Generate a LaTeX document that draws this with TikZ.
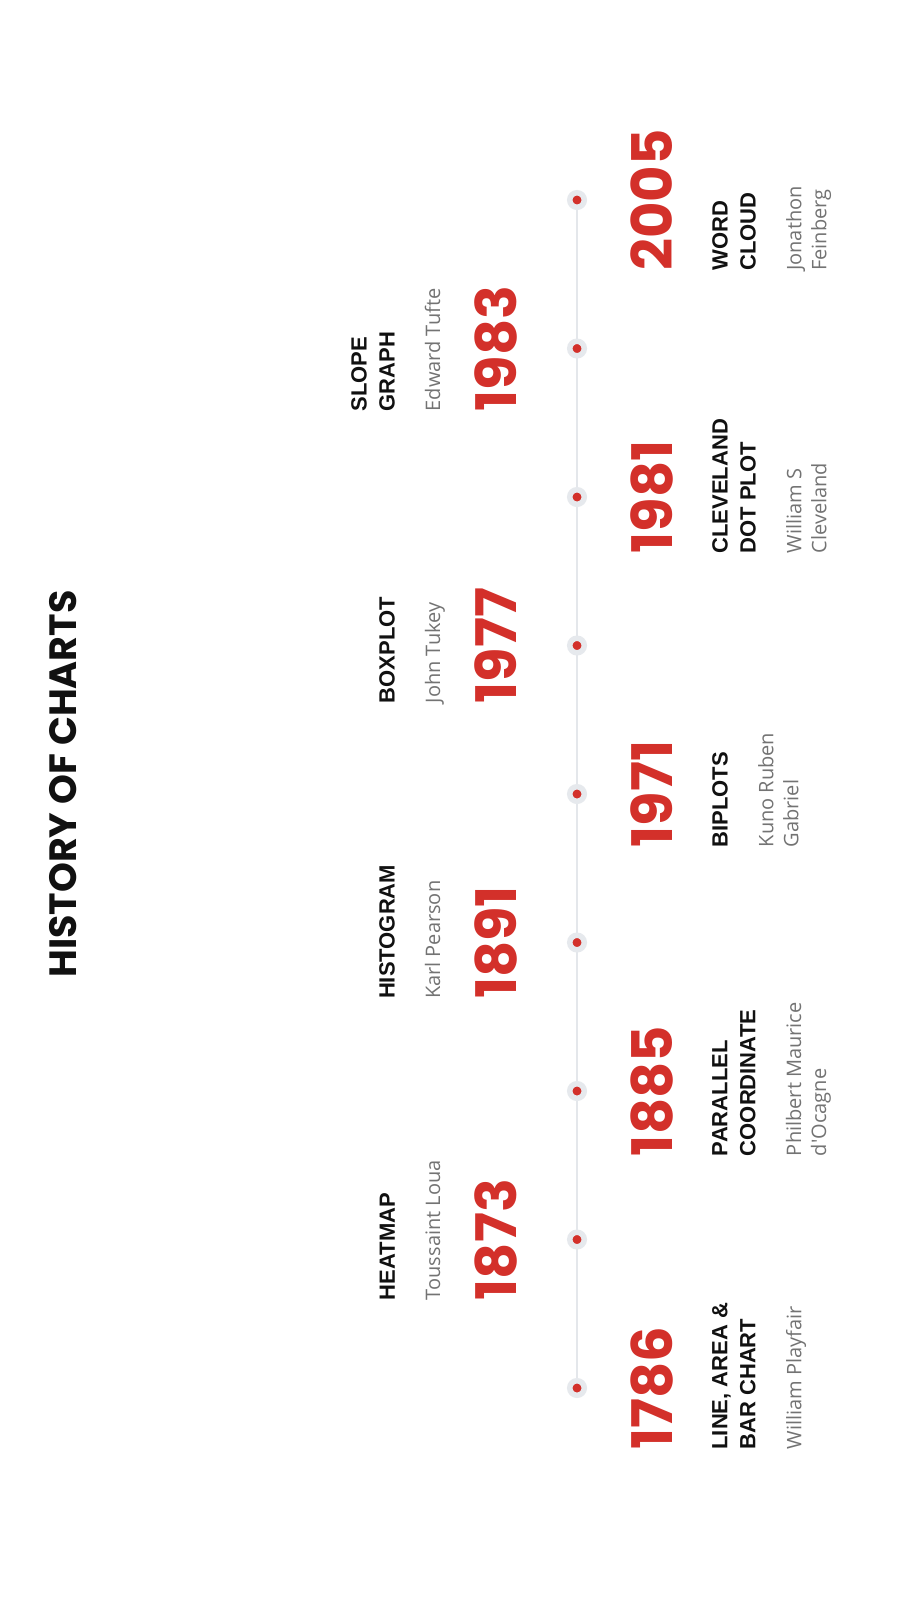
\documentclass[tikz,border=0pt]{standalone}
\usepackage{fontspec}
\usetikzlibrary{calc,backgrounds}
\newfontfamily\headfont{Poppins}
\newfontfamily\chartfont{Liberation Sans}
\newfontfamily\personfont{Open Sans}
\definecolor{Crimson}{HTML}{D3302A}
\definecolor{Rail}{HTML}{E4E7EB}
\definecolor{Halo}{HTML}{E6E9ED}
\definecolor{Ash}{HTML}{737373}
\definecolor{Coal}{HTML}{111111}

\tikzset{
  yr/.style={rotate=90, inner sep=0pt, text=Crimson, font=\headfont\bfseries\fontsize{56}{60}\selectfont},
  chart/.style={rotate=90, inner sep=0pt, align=left, text=Coal, font=\chartfont\bfseries\fontsize{22}{28}\selectfont},
  person/.style={rotate=90, inner sep=0pt, align=left, text=Ash, font=\personfont\fontsize{20}{25}\selectfont},
  dot/.style={circle, fill=Crimson, draw=Halo, line width=5.5pt, minimum size=14.5pt, inner sep=0pt},
}

\begin{document}
\begin{tikzpicture}[x=1pt, y=-1pt]
  \useasboundingbox (0,0) rectangle (914,1620);
  \node[rotate=90, inner sep=0pt, text=Coal, font=\headfont\bfseries\fontsize{38}{40}\selectfont] (title) at (63.5,784) {HISTORY OF CHARTS};

  % columns
  \coordinate (upYear) at (652,0);
  \coordinate (upChart) at (712,0);
  \coordinate (loYear) at (496,0);
  \coordinate (loChart) at (395,0);
  \coordinate (loPerson) at (440,0);

  % timeline
  \foreach \i/\r in {1/1388,2/1239.5,3/1091,4/942.5,5/794,6/645.5,7/497,8/348.5,9/200}
    \node[dot] (d\i) at (577,\r) {};
  \begin{pgfonlayer}{background}
    \fill[white] (0,0) rectangle (914,1620);
    \draw[Rail, line width=2.5pt] (d1) -- (d9);
  \end{pgfonlayer}

  % above the line
  \node[yr] (y1786) at (d1 -| upYear) {1786};
  \node[chart, anchor=north west] (c1786) at (y1786.west -| upChart) {LINE, AREA \&\\BAR CHART};
  \node[person, anchor=north west] (p1786) at ($(c1786.south west)+(30,0)$) {William Playfair};

  \node[yr] (y1885) at (d3 -| upYear) {1885};
  \node[chart, anchor=north west] (c1885) at (y1885.west -| upChart) {PARALLEL\\COORDINATE};
  \node[person, anchor=north west] (p1885) at ($(c1885.south west)+(30,0)$) {Philbert Maurice\\d'Ocagne};

  \node[yr] (y1971) at (d5 -| upYear) {1971};
  \node[chart, anchor=north west] (c1971) at (y1971.west -| upChart) {BIPLOTS};
  \node[person, anchor=north west] (p1971) at ($(c1971.south west)+(30,0)$) {Kuno Ruben\\Gabriel};

  \node[yr] (y1981) at (d7 -| upYear) {1981};
  \node[chart, anchor=north west] (c1981) at (y1981.west -| upChart) {CLEVELAND\\DOT PLOT};
  \node[person, anchor=north west] (p1981) at ($(c1981.south west)+(30,0)$) {William S\\Cleveland};

  \node[yr] (y2005) at (d9 -| upYear) {2005};
  \node[chart, anchor=north west] (c2005) at (y2005.west -| upChart) {WORD\\CLOUD};
  \node[person, anchor=north west] (p2005) at ($(c2005.south west)+(30,0)$) {Jonathon\\Feinberg};

  % below the line
  \node[yr] (y1873) at (d2 -| loYear) {1873};
  \node[chart, anchor=south west] (c1873) at (y1873.west -| loChart) {HEATMAP};
  \node[person, anchor=base west] (p1873) at (y1873.west -| loPerson) {Toussaint Loua};

  \node[yr] (y1891) at (d4 -| loYear) {1891};
  \node[chart, anchor=south west] (c1891) at (y1891.west -| loChart) {HISTOGRAM};
  \node[person, anchor=base west] (p1891) at (y1891.west -| loPerson) {Karl Pearson};

  \node[yr] (y1977) at (d6 -| loYear) {1977};
  \node[chart, anchor=south west] (c1977) at (y1977.west -| loChart) {BOXPLOT};
  \node[person, anchor=base west] (p1977) at (y1977.west -| loPerson) {John Tukey};

  \node[yr] (y1983) at (d8 -| loYear) {1983};
  \node[chart, anchor=south west] (c1983) at (y1983.west -| loChart) {SLOPE\\GRAPH};
  \node[person, anchor=base west] (p1983) at (y1983.west -| loPerson) {Edward Tufte};
\end{tikzpicture}
\end{document}
